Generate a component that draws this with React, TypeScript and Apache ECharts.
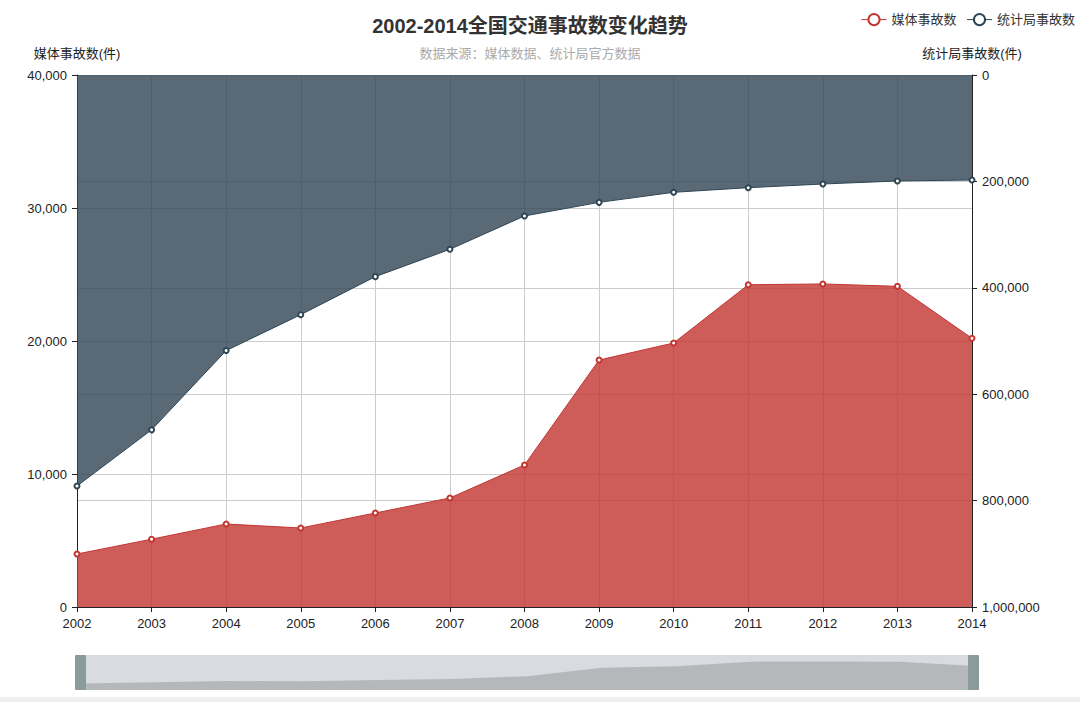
import React, { useEffect, useRef } from "react";
import * as echarts from "echarts";

const years = ["2002", "2003", "2004", "2005", "2006", "2007", "2008", "2009", "2010", "2011", "2012", "2013", "2014"];
const mediaAccidents = [3985, 5100, 6240, 5940, 7070, 8200, 10680, 18570, 19850, 24230, 24290, 24110, 20200];
const bureauAccidents = [772600, 667000, 518000, 450500, 379000, 327700, 265000, 239400, 220500, 211800, 204900, 199200, 197400];
const seriesNames = ["媒体事故数", "统计局事故数"];
const titleText = "2002-2014全国交通事故数变化趋势";
const subText = "数据来源：媒体数据、统计局官方数据";
const leftAxisName = "媒体事故数(件)";
const rightAxisName = "统计局事故数(件)";

const FONT = "'Helvetica Neue', Helvetica, Arial, 'Noto Sans CJK SC', sans-serif";

export default function App() {
  const ref = useRef<HTMLDivElement>(null);
  useEffect(() => {
    if (!ref.current) return;
    const chart = echarts.init(ref.current, undefined, { renderer: "svg" });
    const axisLabel = { color: "#222", fontSize: 13, fontFamily: FONT, margin: 10 };
    const axisLine = { show: true, lineStyle: { color: "#222", width: 1 } };
    const splitLine = { show: true, lineStyle: { color: "#cccccc", width: 1 } };
    chart.setOption({
      animation: false,
      textStyle: { fontFamily: FONT },
      color: ["#c23531", "#2f4554"],
      title: {
        text: titleText,
        subtext: subText,
        left: 525,
        top: 11,
        textAlign: "center",
        itemGap: 11,
        textStyle: { fontSize: 20, fontWeight: "bold", color: "#333", fontFamily: FONT },
        subtextStyle: { fontSize: 13, color: "#aaa", fontFamily: FONT },
      },
      legend: {
        data: seriesNames,
        right: 0,
        top: 8,
        itemWidth: 25,
        itemHeight: 14,
        itemGap: 10,
        itemStyle: { borderWidth: 1 },
        lineStyle: { width: 1 },
        textStyle: { fontSize: 13, color: "#333", fontFamily: FONT },
      },
      grid: { left: 77, right: 108, top: 75, bottom: 95, containLabel: false },
      xAxis: {
        type: "category",
        data: years,
        boundaryGap: false,
        axisLine,
        axisTick: { show: true, length: 5, lineStyle: { color: "#222" } },
        axisLabel,
        splitLine,
      },
      yAxis: [
        {
          type: "value",
          name: leftAxisName,
          nameGap: 15,
          nameTextStyle: { fontSize: 13, color: "#222", fontFamily: FONT },
          min: 0,
          max: 40000,
          interval: 10000,
          axisLine,
          axisTick: { show: true, length: 5, lineStyle: { color: "#222" } },
          axisLabel: { ...axisLabel, formatter: (v: number) => v.toLocaleString("en-US") },
          splitLine,
        },
        {
          type: "value",
          name: rightAxisName,
          nameLocation: "start",
          nameGap: 15,
          nameTextStyle: { fontSize: 13, color: "#222", fontFamily: FONT, verticalAlign: "bottom" },
          inverse: true,
          min: 0,
          max: 1000000,
          interval: 200000,
          axisLine,
          axisTick: { show: true, length: 5, lineStyle: { color: "#222" } },
          axisLabel: { ...axisLabel, formatter: (v: number) => v.toLocaleString("en-US") },
          splitLine,
        },
      ],
      dataZoom: [
        {
          type: "slider",
          xAxisIndex: 0,
          start: 0,
          end: 100,
          left: 77,
          right: 108,
          top: 655,
          height: 35,
          showDetail: false,
          brushSelect: false,
          moveHandleSize: 0,
          borderColor: "transparent",
          backgroundColor: "#d8dce1",
          fillerColor: "rgba(0,0,0,0)",
          handleIcon: "path://M1,0H10Q11,0 11,1V34Q11,35 10,35H1Q0,35 0,34V1Q0,0 1,0Z",
          handleSize: "100%",
          handleStyle: { color: "#8b9a9b", borderColor: "#8b9a9b", borderWidth: 0 },
          dataBackground: {
            lineStyle: { opacity: 0 },
            areaStyle: { color: "#b4b8bb", opacity: 1 },
          },
          selectedDataBackground: {
            lineStyle: { opacity: 0 },
            areaStyle: { color: "#b4b8bb", opacity: 1 },
          },
        },
      ],
      graphic: [
        {
          type: "rect",
          left: 0,
          top: 697,
          shape: { width: 1080, height: 5 },
          style: { fill: "#eeeeee" },
          silent: true,
        },
      ],
      series: [
        {
          name: seriesNames[0],
          type: "line",
          yAxisIndex: 0,
          data: mediaAccidents,
          symbol: "emptyCircle",
          symbolSize: 5,
          lineStyle: { width: 1, color: "#c23531" },
          itemStyle: { color: "#c23531", borderWidth: 1 },
          areaStyle: { color: "#c23531", opacity: 0.8 },
        },
        {
          name: seriesNames[1],
          type: "line",
          yAxisIndex: 1,
          data: bureauAccidents,
          symbol: "emptyCircle",
          symbolSize: 5,
          lineStyle: { width: 1, color: "#2f4554" },
          itemStyle: { color: "#2f4554", borderWidth: 1 },
          areaStyle: { color: "#2f4554", opacity: 0.8 },
        },
      ],
    });
    return () => chart.dispose();
  }, []);
  return (
    <div
      ref={ref}
      style={{ position: "fixed", left: 0, top: 0, width: 1080, height: 702, background: "#fff" }}
    />
  );
}
